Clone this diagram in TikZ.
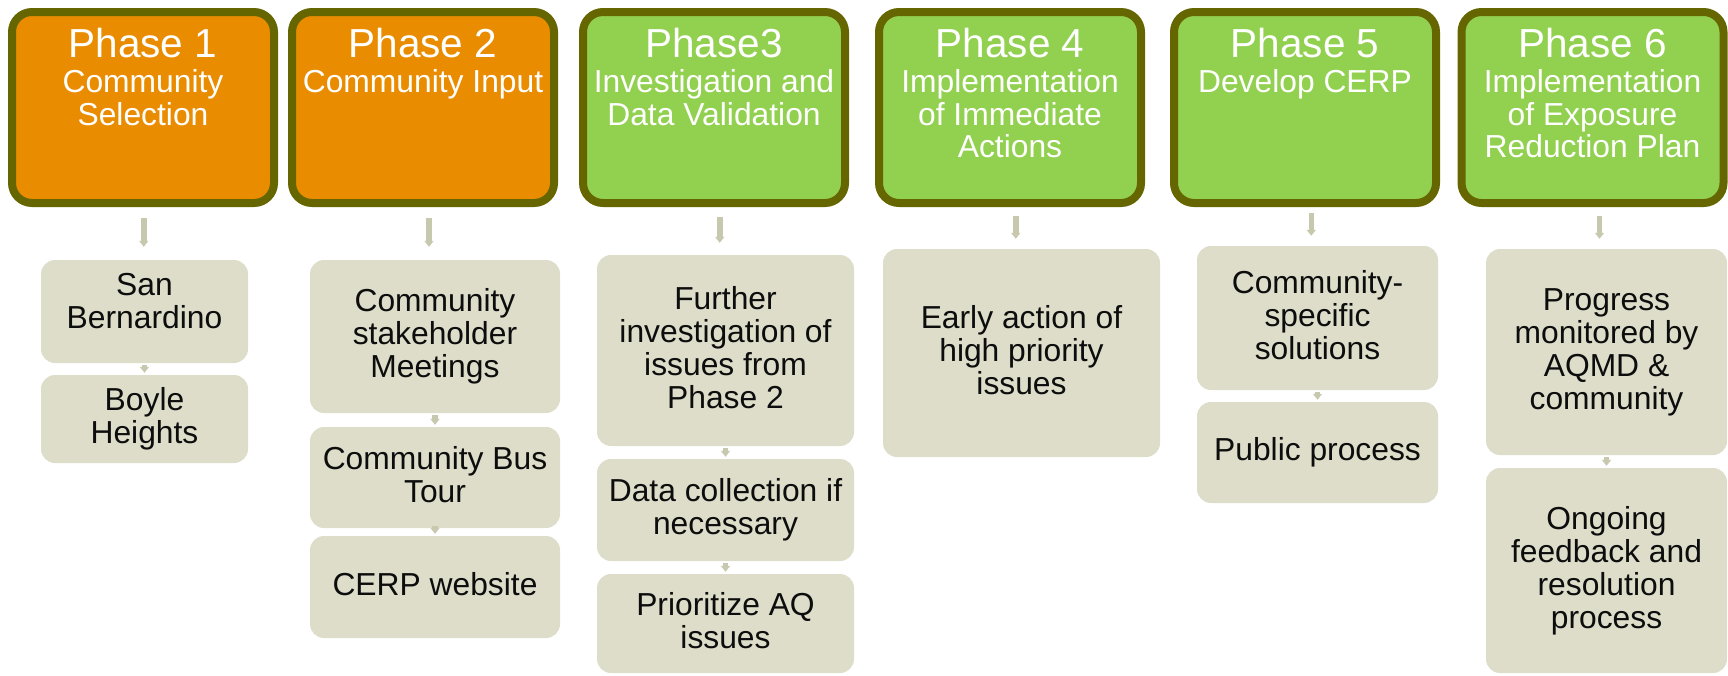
\documentclass[tikz,border=0pt]{standalone}
\usepackage{fontspec}
\setmainfont{Liberation Sans}
\usetikzlibrary{arrows.meta,calc}
\definecolor{hdrorange}{HTML}{EA8C00}
\definecolor{hdrgreen}{HTML}{92D050}
\definecolor{hdrborder}{HTML}{666600}
\definecolor{stepfill}{HTML}{DDDDCA}
\definecolor{arrowc}{HTML}{C8C8AE}
\definecolor{txt}{HTML}{0D0D0D}
\newcommand\firststrut{\vrule width0pt height0.75em depth0pt}
\newcommand\laststrut{\vrule width0pt height0pt depth0.22em}
\begin{document}
\begin{tikzpicture}[x=1pt,y=-1pt,
  hdr/.style={draw=hdrborder, line width=8pt, rounded corners=20pt,
    minimum width=262pt, minimum height=191pt, inner sep=0pt},
  phaseA/.style={hdr, fill=hdrorange},
  phaseB/.style={hdr, fill=hdrgreen},
  title/.style={text=white, font=\fontsize{40.5}{44}\selectfont, inner sep=0pt, anchor=base},
  subtitle/.style={text=white, font=\fontsize{31.8}{32.5}\selectfont, align=center,
    inner sep=0pt, anchor=north},
  stepbox/.style={fill=stepfill, rounded corners=14pt, inner sep=0pt, align=center,
    text=txt, font=\fontsize{31.8}{33}\selectfont},
  conn/.style={draw=arrowc, line width=5.5pt, -{Triangle[width=9pt,length=6pt]}},
  hconn/.style={conn, shorten <=9pt, shorten >=10pt},
  sconn/.style={conn, shorten <=2pt, shorten >=2pt}
]
\useasboundingbox (0,0) rectangle (1728,675);

% headers
\node[phaseA] (h1) at (143,107.5) {};
\node[phaseA] (h2) at (423,107.5) {};
\node[phaseB] (h3) at (714,107.5) {};
\node[phaseB] (h4) at (1010,107.5) {};
\node[phaseB] (h5) at (1305,107.5) {};
\node[phaseB] (h6) at (1592.5,107.5) {};

\node[title] (t1) at (143,57) {Phase 1};
\node[title] (t2) at (423,57) {Phase 2};
\node[title] (t3) at (714,57) {Phase3};
\node[title] (t4) at (1010,57) {Phase 4};
\node[title] (t5) at (1305,57) {Phase 5};
\node[title] (t6) at (1592.5,57) {Phase 6};

\node[subtitle] (s1) at (143,68.6) {\firststrut Community\\Selection};
\node[subtitle] (s2) at (423,68.6) {\firststrut Community Input};
\node[subtitle] (s3) at (714,68.6) {\firststrut Investigation and\\Data Validation};
\node[subtitle] (s4) at (1010,68.6) {\firststrut Implementation\\of Immediate\\Actions};
\node[subtitle] (s5) at (1305,68.6) {\firststrut Develop CERP};
\node[subtitle] (s6) at (1592.5,68.6) {\firststrut Implementation\\of Exposure\\Reduction Plan};

% step boxes
\node[stepbox, minimum width=207pt, minimum height=103pt] (b11) at (144.5,311.5)
  {\firststrut San\\Bernardino\vrule width0pt height0pt depth23pt};
\node[stepbox, minimum width=207pt, minimum height=88pt] (b12) at (144.5,419)
  {\firststrut Boyle\\Heights\laststrut};

\node[stepbox, minimum width=250pt, minimum height=153pt] (b21) at (435,336.5)
  {\firststrut Community\\stakeholder\\Meetings\laststrut};
\node[stepbox, minimum width=250pt, minimum height=101pt] (b22) at (435,477.5)
  {\firststrut Community Bus\\Tour\laststrut};
\node[stepbox, minimum width=250pt, minimum height=102pt] (b23) at (435,587)
  {\firststrut CERP website\laststrut};

\node[stepbox, minimum width=257pt, minimum height=191pt] (b31) at (725.5,350.5)
  {\firststrut Further\\investigation of\\issues from\\Phase 2\laststrut};
\node[stepbox, minimum width=257pt, minimum height=102pt] (b32) at (725.5,510)
  {\firststrut Data collection if\\necessary\laststrut};
\node[stepbox, minimum width=257pt, minimum height=99pt] (b33) at (725.5,623.5)
  {\firststrut Prioritize AQ\\issues\laststrut};

\node[stepbox, minimum width=277pt, minimum height=208pt] (b41) at (1021.5,353)
  {\firststrut Early action of\\high priority\\issues\laststrut};

\node[stepbox, minimum width=241pt, minimum height=144pt] (b51) at (1317.5,318)
  {\firststrut Community-\\specific\\solutions\laststrut};
\node[stepbox, minimum width=241pt, minimum height=101pt] (b52) at (1317.5,452.5)
  {\firststrut Public process\laststrut};

\node[stepbox, minimum width=241pt, minimum height=206pt] (b61) at (1606.5,352)
  {\firststrut Progress\\monitored by\\AQMD \&\\community\laststrut};
\node[stepbox, minimum width=241pt, minimum height=205pt] (b62) at (1606.5,570.5)
  {\firststrut Ongoing\\feedback and\\resolution\\process\laststrut};

% connectors: header to first step (vertical, midway between centres)
\coordinate (m1) at ($(h1.south)!0.5!(b11.north)$);
\coordinate (m2) at ($(h2.south)!0.5!(b21.north)$);
\coordinate (m3) at ($(h3.south)!0.5!(b31.north)$);
\coordinate (m4) at ($(h4.south)!0.5!(b41.north)$);
\coordinate (m5) at ($(h5.south)!0.5!(b51.north)$);
\coordinate (m6) at ($(h6.south)!0.5!(b61.north)$);
\draw[hconn, shorten <=11pt, shorten >=13pt] (m1 |- h1.south) -- (m1 |- b11.north);
\draw[hconn, shorten <=11pt, shorten >=13pt] (m2 |- h2.south) -- (m2 |- b21.north);
\draw[hconn, shorten <=10pt, shorten >=12pt] (m3 |- h3.south) -- (m3 |- b31.north);
\draw[hconn] (m4 |- h4.south) -- (m4 |- b41.north);
\draw[hconn, shorten <=6pt] (m5 |- h5.south) -- (m5 |- b51.north);
\draw[hconn] (m6 |- h6.south) -- (m6 |- b61.north);

\draw[sconn] (b11.south) -- (b12.north);
\draw[sconn] (b21.south) -- (b22.north);
\draw[sconn] (b22.south) -- (b23.north);
\draw[sconn] (b31.south) -- (b32.north);
\draw[sconn] (b32.south) -- (b33.north);
\draw[sconn] (b51.south) -- (b52.north);
\draw[sconn] (b61.south) -- (b62.north);
\end{tikzpicture}
\end{document}
